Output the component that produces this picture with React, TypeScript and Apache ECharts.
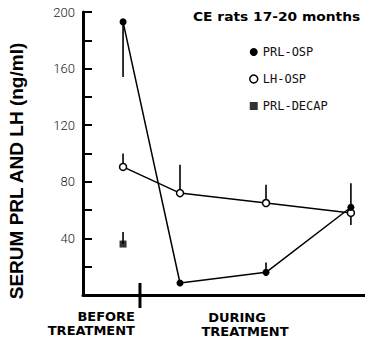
import React, { useEffect, useRef } from "react";
import * as echarts from "echarts";

// x positions (arbitrary time scale 0..100) of the four sampling points
const timePoints = [14.2, 34.4, 64.9, 95];
const prlOsp = [193, 8.5, 16, 62];
const prlOspErrEnd = [154, 8.5, 23, 79];
const lhOsp = [90.5, 72, 65, 58];
const lhOspErrEnd = [100, 92, 78, 49.5];
const prlDecapX = [14.2];
const prlDecap = [36];
const prlDecapErrEnd = [44.5];
const yTickLabels = [40, 80, 120, 160, 200];
const breakX = 20.2;

export default function App() {
  const ref = useRef<HTMLDivElement>(null);
  useEffect(() => {
    const chart = echarts.init(ref.current!, null, { renderer: "svg" });
    const errData: number[][] = [];
    timePoints.forEach((x, i) => {
      if (prlOspErrEnd[i] !== prlOsp[i]) errData.push([x, prlOsp[i], prlOspErrEnd[i]]);
      errData.push([x, lhOsp[i], lhOspErrEnd[i]]);
    });
    prlDecapX.forEach((x, i) => errData.push([x, prlDecap[i], prlDecapErrEnd[i]]));

    const option: any = {
      animation: false,
      grid: { left: 83, right: 0, top: 12, bottom: 45 },
      xAxis: {
        type: "value",
        min: 0,
        max: 100,
        axisLine: { show: true, lineStyle: { color: "#000", width: 3 } },
        axisTick: { show: false },
        axisLabel: { show: false },
        splitLine: { show: false },
      },
      yAxis: {
        type: "value",
        min: 0,
        max: 200,
        interval: 20,
        axisLine: { show: true, lineStyle: { color: "#000", width: 3 } },
        axisTick: { show: true, inside: true, length: 9, lineStyle: { color: "#000", width: 2 } },
        axisLabel: {
          margin: 8,
          color: "#222",
          fontFamily: "Roboto",
          fontWeight: 300,
          fontSize: 13,
          formatter: (v: number) => (yTickLabels.indexOf(v) >= 0 ? String(v) : ""),
        },
        splitLine: { show: false },
      },
      legend: {
        orient: "vertical",
        left: 244,
        top: 41,
        itemWidth: 8,
        itemHeight: 8,
        itemGap: 15,
        textStyle: { fontFamily: "DejaVu Sans Mono", fontSize: 12, color: "#111", padding: [0, 0, 0, 0] },
        data: [
          { name: "PRL-OSP", icon: "circle", itemStyle: { color: "#000" } },
          { name: "LH-OSP", icon: "circle", itemStyle: { color: "#fff", borderColor: "#000", borderWidth: 1.5 } },
          { name: "PRL-DECAP", icon: "rect", itemStyle: { color: "#000" } },
        ],
      },
      series: [
        {
          name: "err",
          type: "custom",
          data: errData,
          renderItem: (params: any, api: any) => {
            const p1 = api.coord([api.value(0), api.value(1)]);
            const p2 = api.coord([api.value(0), api.value(2)]);
            return {
              type: "line",
              shape: { x1: p1[0], y1: p1[1], x2: p2[0], y2: p2[1] },
              style: { stroke: "#000", lineWidth: 1.6 },
            };
          },
          z: 1,
        },
        {
          name: "LH-OSP",
          type: "line",
          data: timePoints.map((x, i) => [x, lhOsp[i]]),
          symbol: "circle",
          symbolSize: 7,
          lineStyle: { color: "#000", width: 1.5 },
          itemStyle: { color: "#fff", borderColor: "#000", borderWidth: 1.5 },
          z: 3,
        },
        {
          name: "PRL-OSP",
          type: "line",
          data: timePoints.map((x, i) => [x, prlOsp[i]]),
          symbol: "circle",
          symbolSize: 7,
          lineStyle: { color: "#000", width: 1.5 },
          itemStyle: { color: "#000" },
          z: 4,
        },
        {
          name: "PRL-DECAP",
          type: "scatter",
          data: prlDecapX.map((x, i) => [x, prlDecap[i]]),
          symbol: "rect",
          symbolSize: 7,
          itemStyle: { color: "#000" },
          z: 4,
        },
      ],
    };
    chart.setOption(option);

    const bx = chart.convertToPixel({ xAxisIndex: 0 }, breakX) as number;
    const base = chart.convertToPixel({ yAxisIndex: 0 }, 0) as number;
    chart.setOption({
      graphic: [
        {
          type: "line",
          shape: { x1: bx, y1: base - 12, x2: bx, y2: base + 13 },
          style: { stroke: "#000", lineWidth: 3 },
        },
        {
          type: "text",
          x: 193,
          y: 17,
          scaleX: 1.15,
          style: {
            text: "CE rats 17-20 months",
            font: "bold 12px 'DejaVu Sans'",
            fill: "#000",
            textVerticalAlign: "middle",
          },
        },
        {
          type: "text",
          x: 16,
          y: 171,
          rotation: Math.PI / 2,
          style: {
            text: "SERUM PRL AND LH (ng/ml)",
            font: "bold 19px 'Liberation Sans'",
            fill: "#000",
            textAlign: "center",
            textVerticalAlign: "middle",
          },
        },
        {
          type: "text",
          x: 135,
          y: 316,
          style: { text: "BEFORE", font: "bold 13px 'DejaVu Sans'", fill: "#000", textAlign: "right", textVerticalAlign: "middle" },
        },
        {
          type: "text",
          x: 135,
          y: 330,
          style: { text: "TREATMENT", font: "bold 13px 'DejaVu Sans'", fill: "#000", textAlign: "right", textVerticalAlign: "middle" },
        },
        {
          type: "text",
          x: 237,
          y: 317,
          style: { text: "DURING", font: "bold 13px 'DejaVu Sans'", fill: "#000", textAlign: "center", textVerticalAlign: "middle" },
        },
        {
          type: "text",
          x: 245,
          y: 331,
          style: { text: "TREATMENT", font: "bold 13px 'DejaVu Sans'", fill: "#000", textAlign: "center", textVerticalAlign: "middle" },
        },
      ],
    });
    return () => chart.dispose();
  }, []);
  return <div ref={ref} style={{ width: 365, height: 340, position: "absolute", left: 0, top: 0, background: "#fff" }} />;
}
